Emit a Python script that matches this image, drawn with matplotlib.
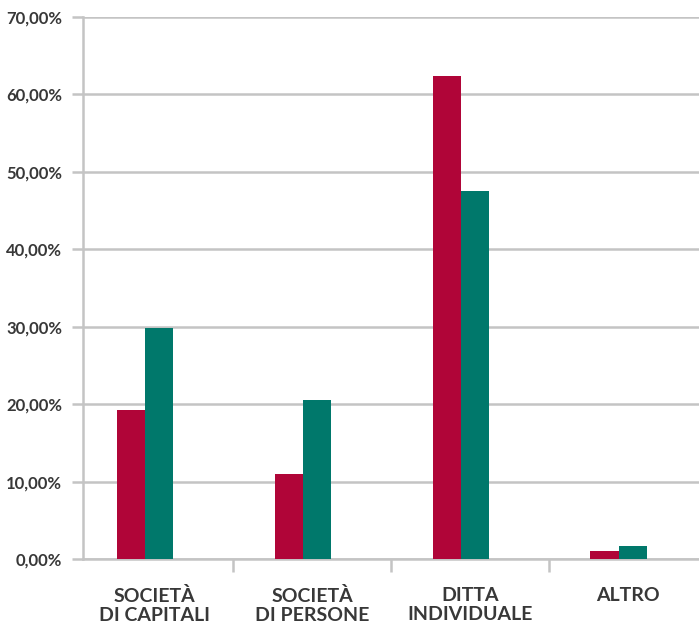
import matplotlib
matplotlib.use("Agg")
import matplotlib.pyplot as plt
from matplotlib.ticker import FuncFormatter, FixedLocator

# Data
categories = ["SOCIETÀ\nDI CAPITALI", "SOCIETÀ\nDI PERSONE", "DITTA\nINDIVIDUALE", "ALTRO"]
series_a = [19.25, 11.0, 62.35, 1.05]   # red series (%)
series_b = [29.85, 20.6, 47.5, 1.7]     # teal series (%)
y_ticks = [0, 10, 20, 30, 40, 50, 60, 70]

RED = "#B00538"
TEAL = "#00786B"
GRID = "#C4C4C4"
TEXT = "#383838"

plt.rcParams["font.family"] = ["Lato", "DejaVu Sans"]

fig = plt.figure(figsize=(6.99, 6.25), dpi=100)
W, H = 699, 625
left, right, bottom, top = 83, 699, 559.3, 16.7
ax = fig.add_axes([left / W, 1 - bottom / H, (right - left) / W, (bottom - top) / H])

bar_w = 0.179
shift = -0.059
x = list(range(len(categories)))
ax.bar([i + shift - bar_w / 2 for i in x], series_a, width=bar_w, color=RED, zorder=3)
ax.bar([i + shift + bar_w / 2 for i in x], series_b, width=bar_w, color=TEAL, zorder=3)

ax.set_ylim(0, 70)
ax.set_xlim(-0.5 + 7.5 / 158, 3.5 - 8 / 158)

ax.set_yticks(y_ticks)
ax.yaxis.set_major_formatter(FuncFormatter(lambda v, p: f"{v:.2f}".replace(".", ",") + "%"))
ax.yaxis.grid(True, color=GRID, linewidth=1.8, zorder=0)
ax.tick_params(axis="y", length=8, width=1.8, color=GRID, pad=7,
               labelsize=12, labelcolor=TEXT)
for lab in ax.get_yticklabels():
    lab.set_fontweight("bold")

ax.set_xticks(x)
ax.set_xticklabels(categories, fontsize=14, fontweight="bold", color=TEXT,
                   linespacing=1.15, multialignment="center")
ax.tick_params(axis="x", which="major", length=0, pad=20)
ax.xaxis.set_minor_locator(FixedLocator([0.5, 1.5, 2.5]))
ax.tick_params(axis="x", which="minor", length=9, width=1.8, color=GRID)

for side in ("top", "right"):
    ax.spines[side].set_visible(False)
for side in ("left", "bottom"):
    ax.spines[side].set_color(GRID)
    ax.spines[side].set_linewidth(1.8)

fig.savefig("out.png", dpi=100)
